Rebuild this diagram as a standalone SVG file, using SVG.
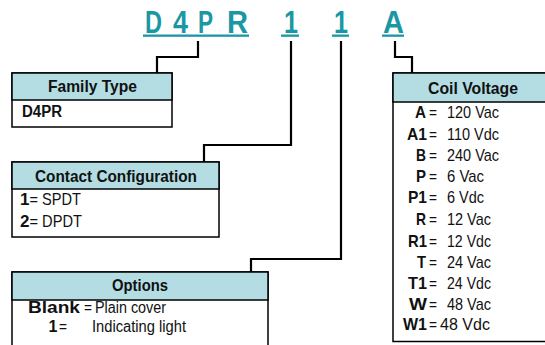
<svg xmlns="http://www.w3.org/2000/svg" width="545" height="345" viewBox="0 0 545 345">
<style>
.code{font-family:"Liberation Sans",Arial,sans-serif;font-weight:bold;font-size:32px;fill:#1b97a4}
.ul{fill:#1b97a4}
.conn{fill:none;stroke:#000;stroke-width:2.2}
.box{fill:#fff;stroke:#000;stroke-width:1.5}
.hdr{fill:#b3dde3;stroke:#000;stroke-width:1.5}
.ht{font-family:"Liberation Sans",Arial,sans-serif;font-weight:bold;font-size:17px;fill:#111}
.b{font-family:"Liberation Sans",Arial,sans-serif;font-weight:bold;font-size:17px;fill:#111}
.t{font-family:"Liberation Sans",Arial,sans-serif;font-size:17px;fill:#111}
.s{font-size:16px}
</style>
<rect width="545" height="345" fill="#fff"/>
<g id="code">
<text class="code" x="145" y="33" textLength="17" lengthAdjust="spacingAndGlyphs">D</text>
<text class="code" x="173" y="33" textLength="15" lengthAdjust="spacingAndGlyphs">4</text>
<text class="code" x="198" y="33" textLength="15" lengthAdjust="spacingAndGlyphs">P</text>
<text class="code" x="227" y="33" textLength="21" lengthAdjust="spacingAndGlyphs">R</text>
<text class="code" x="284" y="33" textLength="14" lengthAdjust="spacingAndGlyphs">1</text>
<text class="code" x="334" y="33" textLength="14" lengthAdjust="spacingAndGlyphs">1</text>
<text class="code" x="383" y="33" textLength="21" lengthAdjust="spacingAndGlyphs">A</text>
<rect class="ul" x="143" y="34.5" width="106" height="2.3"/>
<rect class="ul" x="281" y="34.5" width="18" height="2.3"/>
<rect class="ul" x="332" y="34.5" width="17" height="2.3"/>
<rect class="ul" x="382" y="34.5" width="22" height="2.3"/>
</g>
<g id="connectors">
<path class="conn" d="M198,41 V57 H157 V73"/>
<path class="conn" d="M291,41 V145 H204 V162"/>
<path class="conn" d="M341,41 V259 H251 V272"/>
<path class="conn" d="M395,41 V57 H412 V73"/>
</g>
<g id="family">
<rect class="box" x="12" y="73" width="160" height="54"/>
<rect class="hdr" x="12" y="73" width="160" height="27"/>
<text class="ht" x="48" y="92" textLength="89" lengthAdjust="spacingAndGlyphs">Family Type</text>
<text class="b s" x="22" y="117" textLength="40" lengthAdjust="spacingAndGlyphs">D4PR</text>
</g>
<g id="contact">
<rect class="box" x="12" y="162" width="207" height="75"/>
<rect class="hdr" x="12" y="162" width="207" height="27"/>
<text class="ht" x="35" y="182" textLength="162" lengthAdjust="spacingAndGlyphs">Contact Configuration</text>
<text class="b" x="20" y="205">1</text>
<text class="t" x="29.5" y="205" textLength="51.5" lengthAdjust="spacingAndGlyphs">= SPDT</text>
<text class="b" x="20" y="227">2</text>
<text class="t" x="29.5" y="227" textLength="52.5" lengthAdjust="spacingAndGlyphs">= DPDT</text>
</g>
<g id="options">
<rect class="box" x="12" y="272" width="256" height="90"/>
<rect class="hdr" x="12" y="272" width="256" height="28"/>
<text class="ht" x="112" y="291" textLength="56" lengthAdjust="spacingAndGlyphs">Options</text>
<text class="b s" x="28" y="313" textLength="52" lengthAdjust="spacingAndGlyphs">Blank</text>
<text class="t s" x="84" y="313" textLength="8" lengthAdjust="spacingAndGlyphs">=</text>
<text class="t s" x="95" y="313" textLength="71" lengthAdjust="spacingAndGlyphs">Plain cover</text>
<text class="b s" x="48.5" y="332">1</text>
<text class="t s" x="59" y="332" textLength="8" lengthAdjust="spacingAndGlyphs">=</text>
<text class="t s" x="92" y="332" textLength="94" lengthAdjust="spacingAndGlyphs">Indicating light</text>
</g>
<g id="coil">
<rect class="box" x="393" y="73" width="160" height="268.5"/>
<rect class="hdr" x="393" y="73" width="160" height="29"/>
<text class="ht" x="428" y="94" textLength="90" lengthAdjust="spacingAndGlyphs">Coil Voltage</text>
<g text-anchor="end">
<text class="b" x="426" y="118" textLength="11" lengthAdjust="spacingAndGlyphs">A</text>
<text class="b" x="427" y="140" textLength="20" lengthAdjust="spacingAndGlyphs">A1</text>
<text class="b" x="426" y="161" textLength="10" lengthAdjust="spacingAndGlyphs">B</text>
<text class="b" x="426" y="182" textLength="10" lengthAdjust="spacingAndGlyphs">P</text>
<text class="b" x="427" y="203" textLength="19" lengthAdjust="spacingAndGlyphs">P1</text>
<text class="b" x="426" y="225" textLength="10" lengthAdjust="spacingAndGlyphs">R</text>
<text class="b" x="427" y="247" textLength="19" lengthAdjust="spacingAndGlyphs">R1</text>
<text class="b" x="426" y="268" textLength="9" lengthAdjust="spacingAndGlyphs">T</text>
<text class="b" x="427" y="289" textLength="19" lengthAdjust="spacingAndGlyphs">T1</text>
<text class="b" x="427" y="310" textLength="18" lengthAdjust="spacingAndGlyphs">W</text>
<text class="b" x="427" y="330" textLength="24" lengthAdjust="spacingAndGlyphs">W1</text>
</g>
<text class="t" x="429" y="118" textLength="8" lengthAdjust="spacingAndGlyphs">=</text>
<text class="t" x="447" y="118" textLength="52" lengthAdjust="spacingAndGlyphs">120 Vac</text>
<text class="t" x="429" y="140" textLength="8" lengthAdjust="spacingAndGlyphs">=</text>
<text class="t" x="447" y="140" textLength="52" lengthAdjust="spacingAndGlyphs">110 Vdc</text>
<text class="t" x="429" y="161" textLength="8" lengthAdjust="spacingAndGlyphs">=</text>
<text class="t" x="447" y="161" textLength="52" lengthAdjust="spacingAndGlyphs">240 Vac</text>
<text class="t" x="429" y="182" textLength="8" lengthAdjust="spacingAndGlyphs">=</text>
<text class="t" x="447" y="182" textLength="37" lengthAdjust="spacingAndGlyphs">6 Vac</text>
<text class="t" x="429" y="203" textLength="8" lengthAdjust="spacingAndGlyphs">=</text>
<text class="t" x="447" y="203" textLength="37" lengthAdjust="spacingAndGlyphs">6 Vdc</text>
<text class="t" x="429" y="225" textLength="8" lengthAdjust="spacingAndGlyphs">=</text>
<text class="t" x="447" y="225" textLength="44" lengthAdjust="spacingAndGlyphs">12 Vac</text>
<text class="t" x="429" y="247" textLength="8" lengthAdjust="spacingAndGlyphs">=</text>
<text class="t" x="447" y="247" textLength="44" lengthAdjust="spacingAndGlyphs">12 Vdc</text>
<text class="t" x="429" y="268" textLength="8" lengthAdjust="spacingAndGlyphs">=</text>
<text class="t" x="447" y="268" textLength="44" lengthAdjust="spacingAndGlyphs">24 Vac</text>
<text class="t" x="429" y="289" textLength="8" lengthAdjust="spacingAndGlyphs">=</text>
<text class="t" x="447" y="289" textLength="44" lengthAdjust="spacingAndGlyphs">24 Vdc</text>
<text class="t" x="429" y="310" textLength="8" lengthAdjust="spacingAndGlyphs">=</text>
<text class="t" x="447" y="310" textLength="44" lengthAdjust="spacingAndGlyphs">48 Vac</text>
<text class="t" x="429" y="330" textLength="8" lengthAdjust="spacingAndGlyphs">=</text>
<text class="t" x="440" y="330" textLength="50" lengthAdjust="spacingAndGlyphs">48 Vdc</text>
</g>
</svg>
